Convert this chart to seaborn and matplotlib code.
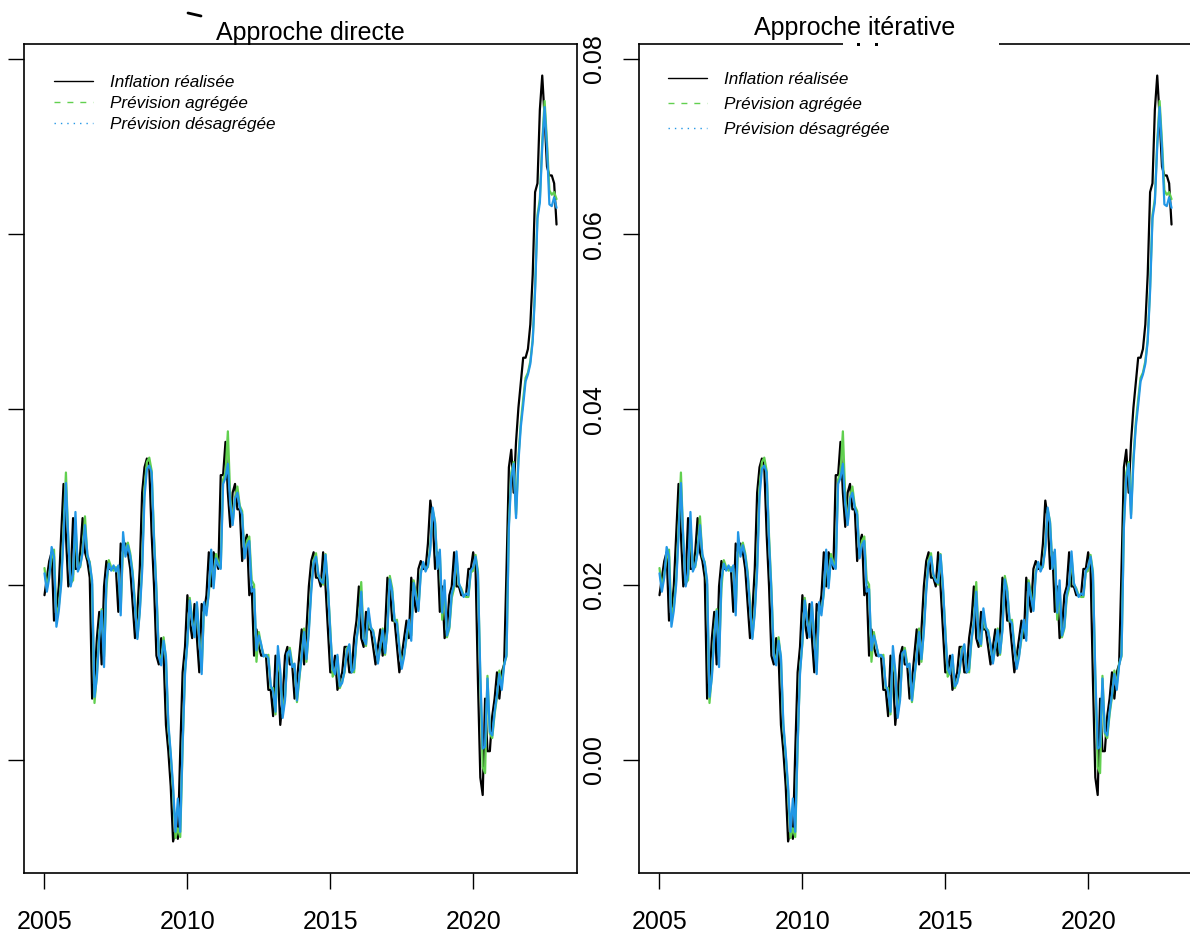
import numpy as np
import pandas as pd
import seaborn as sns
import matplotlib.pyplot as plt
from matplotlib.lines import Line2D
from matplotlib.patches import Rectangle

# monthly log y/y inflation, Jan 2005 -> Dec 2022 (one row per year)
inflation_realisee = [
    0.0188, 0.0208, 0.0227, 0.0237, 0.0159, 0.0169, 0.0198, 0.0257, 0.0315, 0.0257, 0.0198, 0.0208,
    0.0276, 0.0218, 0.0218, 0.0237, 0.0276, 0.0237, 0.0227, 0.0208, 0.0070, 0.0090, 0.0139, 0.0169,
    0.0109, 0.0198, 0.0227, 0.0218, 0.0218, 0.0218, 0.0218, 0.0169, 0.0247, 0.0237, 0.0247, 0.0237,
    0.0218, 0.0178, 0.0139, 0.0169, 0.0218, 0.0305, 0.0334, 0.0344, 0.0334, 0.0257, 0.0198, 0.0119,
    0.0109, 0.0139, 0.0119, 0.0040, 0.0010, -0.0030, -0.0093, -0.0080, -0.0090, 0.0010, 0.0100, 0.0129,
    0.0188, 0.0159, 0.0139, 0.0178, 0.0139, 0.0100, 0.0178, 0.0169, 0.0188, 0.0237, 0.0198, 0.0237,
    0.0227, 0.0218, 0.0325, 0.0325, 0.0363, 0.0305, 0.0266, 0.0305, 0.0315, 0.0286, 0.0286, 0.0227,
    0.0247, 0.0257, 0.0188, 0.0198, 0.0119, 0.0149, 0.0129, 0.0119, 0.0119, 0.0119, 0.0080, 0.0080,
    0.0050, 0.0119, 0.0100, 0.0040, 0.0070, 0.0119, 0.0129, 0.0109, 0.0109, 0.0070, 0.0090, 0.0119,
    0.0149, 0.0109, 0.0149, 0.0198, 0.0227, 0.0237, 0.0208, 0.0208, 0.0198, 0.0237, 0.0198, 0.0149,
    0.0100, 0.0100, 0.0119, 0.0080, 0.0090, 0.0100, 0.0129, 0.0129, 0.0100, 0.0100, 0.0139, 0.0159,
    0.0198, 0.0139, 0.0129, 0.0169, 0.0149, 0.0149, 0.0129, 0.0109, 0.0129, 0.0149, 0.0119, 0.0149,
    0.0208, 0.0198, 0.0159, 0.0159, 0.0129, 0.0100, 0.0119, 0.0139, 0.0159, 0.0139, 0.0208, 0.0188,
    0.0169, 0.0218, 0.0227, 0.0218, 0.0218, 0.0247, 0.0296, 0.0276, 0.0218, 0.0237, 0.0169, 0.0198,
    0.0139, 0.0149, 0.0188, 0.0198, 0.0237, 0.0198, 0.0198, 0.0188, 0.0188, 0.0188, 0.0218, 0.0218,
    0.0237, 0.0218, 0.0090, -0.0020, -0.0040, 0.0070, 0.0010, 0.0010, 0.0050, 0.0070, 0.0100, 0.0070,
    0.0100, 0.0109, 0.0218, 0.0334, 0.0354, 0.0305, 0.0363, 0.0402, 0.0431, 0.0459, 0.0459, 0.0469,
    0.0497, 0.0554, 0.0648, 0.0658, 0.0742, 0.0781, 0.0733, 0.0677, 0.0667, 0.0667, 0.0658, 0.0611,
]

prevision_agregee = [
    0.0219, 0.0196, 0.0212, 0.0230, 0.0240, 0.0163, 0.0175, 0.0205, 0.0262, 0.0328, 0.0250, 0.0202,
    0.0205, 0.0268, 0.0222, 0.0220, 0.0240, 0.0278, 0.0232, 0.0226, 0.0200, 0.0065, 0.0098, 0.0145,
    0.0172, 0.0118, 0.0195, 0.0228, 0.0220, 0.0216, 0.0220, 0.0218, 0.0172, 0.0245, 0.0240, 0.0248,
    0.0236, 0.0215, 0.0180, 0.0140, 0.0170, 0.0222, 0.0310, 0.0340, 0.0345, 0.0330, 0.0255, 0.0195,
    0.0122, 0.0110, 0.0140, 0.0115, 0.0038, 0.0005, -0.0035, -0.0089, -0.0078, -0.0088, 0.0015, 0.0102,
    0.0133, 0.0185, 0.0160, 0.0142, 0.0176, 0.0140, 0.0103, 0.0175, 0.0170, 0.0190, 0.0232, 0.0200,
    0.0235, 0.0226, 0.0220, 0.0320, 0.0328, 0.0375, 0.0300, 0.0270, 0.0300, 0.0312, 0.0290, 0.0284,
    0.0232, 0.0250, 0.0255, 0.0205, 0.0200, 0.0112, 0.0146, 0.0130, 0.0120, 0.0118, 0.0120, 0.0082,
    0.0082, 0.0052, 0.0120, 0.0098, 0.0053, 0.0072, 0.0118, 0.0128, 0.0110, 0.0108, 0.0066, 0.0092,
    0.0120, 0.0150, 0.0112, 0.0150, 0.0196, 0.0228, 0.0236, 0.0210, 0.0206, 0.0200, 0.0235, 0.0196,
    0.0150, 0.0095, 0.0100, 0.0118, 0.0082, 0.0090, 0.0100, 0.0128, 0.0130, 0.0102, 0.0100, 0.0136,
    0.0158, 0.0203, 0.0140, 0.0130, 0.0166, 0.0150, 0.0148, 0.0130, 0.0112, 0.0128, 0.0150, 0.0120,
    0.0150, 0.0210, 0.0196, 0.0158, 0.0160, 0.0130, 0.0108, 0.0120, 0.0138, 0.0156, 0.0142, 0.0205,
    0.0190, 0.0172, 0.0215, 0.0225, 0.0218, 0.0220, 0.0245, 0.0285, 0.0272, 0.0220, 0.0236, 0.0160,
    0.0195, 0.0140, 0.0150, 0.0185, 0.0196, 0.0232, 0.0200, 0.0196, 0.0188, 0.0186, 0.0186, 0.0214,
    0.0216, 0.0234, 0.0215, 0.0092, -0.0008, -0.0015, 0.0096, 0.0030, 0.0025, 0.0052, 0.0072, 0.0102,
    0.0085, 0.0110, 0.0118, 0.0270, 0.0328, 0.0340, 0.0280, 0.0345, 0.0385, 0.0412, 0.0436, 0.0442,
    0.0455, 0.0480, 0.0540, 0.0622, 0.0640, 0.0705, 0.0752, 0.0705, 0.0650, 0.0645, 0.0648, 0.0640,
]

prevision_desagregee = [
    0.0213, 0.0192, 0.0208, 0.0243, 0.0232, 0.0152, 0.0170, 0.0200, 0.0255, 0.0316, 0.0252, 0.0198,
    0.0212, 0.0283, 0.0215, 0.0222, 0.0236, 0.0268, 0.0235, 0.0224, 0.0205, 0.0072, 0.0094, 0.0140,
    0.0170, 0.0106, 0.0205, 0.0224, 0.0216, 0.0222, 0.0215, 0.0222, 0.0165, 0.0260, 0.0232, 0.0245,
    0.0233, 0.0212, 0.0175, 0.0138, 0.0168, 0.0215, 0.0300, 0.0332, 0.0336, 0.0328, 0.0250, 0.0192,
    0.0118, 0.0108, 0.0136, 0.0118, 0.0042, 0.0008, -0.0030, -0.0082, -0.0044, -0.0082, 0.0018, 0.0098,
    0.0135, 0.0182, 0.0158, 0.0140, 0.0180, 0.0138, 0.0098, 0.0180, 0.0165, 0.0192, 0.0240, 0.0196,
    0.0230, 0.0222, 0.0218, 0.0315, 0.0322, 0.0338, 0.0292, 0.0268, 0.0298, 0.0305, 0.0288, 0.0280,
    0.0230, 0.0245, 0.0250, 0.0192, 0.0195, 0.0125, 0.0142, 0.0132, 0.0118, 0.0120, 0.0116, 0.0085,
    0.0078, 0.0055, 0.0130, 0.0102, 0.0048, 0.0068, 0.0122, 0.0125, 0.0106, 0.0110, 0.0068, 0.0095,
    0.0118, 0.0146, 0.0115, 0.0146, 0.0192, 0.0225, 0.0232, 0.0212, 0.0204, 0.0202, 0.0234, 0.0200,
    0.0146, 0.0104, 0.0098, 0.0120, 0.0084, 0.0088, 0.0102, 0.0124, 0.0132, 0.0100, 0.0104, 0.0138,
    0.0156, 0.0192, 0.0138, 0.0132, 0.0173, 0.0152, 0.0146, 0.0132, 0.0110, 0.0130, 0.0148, 0.0122,
    0.0148, 0.0206, 0.0192, 0.0160, 0.0156, 0.0128, 0.0104, 0.0118, 0.0142, 0.0160, 0.0136, 0.0202,
    0.0186, 0.0170, 0.0212, 0.0226, 0.0215, 0.0222, 0.0240, 0.0288, 0.0270, 0.0218, 0.0240, 0.0168,
    0.0205, 0.0142, 0.0152, 0.0190, 0.0200, 0.0238, 0.0202, 0.0194, 0.0186, 0.0190, 0.0188, 0.0216,
    0.0220, 0.0232, 0.0212, 0.0098, 0.0013, 0.0015, 0.0093, 0.0032, 0.0028, 0.0055, 0.0075, 0.0098,
    0.0080, 0.0108, 0.0120, 0.0265, 0.0322, 0.0338, 0.0276, 0.0340, 0.0380, 0.0405, 0.0432, 0.0440,
    0.0452, 0.0478, 0.0535, 0.0618, 0.0636, 0.0700, 0.0745, 0.0698, 0.0634, 0.0632, 0.0642, 0.0630,
]

titres = ["Approche directe", "Approche itérative"]
legend_labels = ["Inflation réalisée", "Prévision agrégée", "Prévision désagrégée"]
x_ticks = [2005, 2010, 2015, 2020]
y_ticks = [0.00, 0.02, 0.04, 0.06, 0.08]

GREEN = "#61D04F"
BLUE = "#2297E6"

sns.set_style("ticks")
plt.rcParams["font.family"] = ["Liberation Sans", "DejaVu Sans"]
plt.rcParams["text.color"] = "black"

df = pd.DataFrame({
    "date": 2005 + np.arange(len(inflation_realisee)) / 12,
    "real": inflation_realisee,
    "agg": prevision_agregee,
    "desagg": prevision_desagregee,
})

W, H = 1190, 936
fig = plt.figure(figsize=(W / 100, H / 100), dpi=100)

# axes boxes in pixels: (left, top, right, bottom)
boxes = [(24, 44, 577, 873), (639, 44, 1192, 873)]
title_pos = [(310, 33), (855, 28)]
legend_anchor = [(54, 75, 0.36), (668, 72, 0.58)]

for i, (l, t, r, b) in enumerate(boxes):
    ax = fig.add_axes([l / W, 1 - b / H, (r - l) / W, (b - t) / H])
    sns.lineplot(data=df, x="date", y="real", ax=ax, color="black", lw=1.6)
    sns.lineplot(data=df, x="date", y="agg", ax=ax, color=GREEN, lw=1.6)
    sns.lineplot(data=df, x="date", y="desagg", ax=ax, color=BLUE, lw=1.6)

    ax.set_xlim(2004.283, 2023.633)
    ax.set_ylim(-0.0129, 0.0817)
    ax.set_xticks(x_ticks)
    ax.set_xticklabels([str(v) for v in x_ticks])
    ax.set_yticks(y_ticks)
    ax.set_yticklabels(["%.2f" % v for v in y_ticks], rotation=90, va="center")
    ax.set_xlabel("")
    ax.set_ylabel("")
    ax.tick_params(axis="both", length=11.5, width=1.0, color="black",
                   labelsize=18, labelcolor="black")
    ax.tick_params(axis="x", pad=15)
    ax.tick_params(axis="y", pad=12)
    if i == 0:
        # the left panel's value labels fall outside the exported image
        ax.tick_params(axis="y", labelleft=False)
    for sp in ax.spines.values():
        sp.set_visible(True)
        sp.set_color("black")
        sp.set_linewidth(1.2)

    handles = [
        Line2D([], [], color="black", lw=1.0),
        Line2D([], [], color=GREEN, lw=1.0, linestyle=(0, (4.3, 5.0))),
        Line2D([], [], color=BLUE, lw=1.0, linestyle=(0, (1.0, 3.6))),
    ]
    hx, hy, spacing = legend_anchor[i]
    leg = ax.legend(handles, legend_labels, loc="upper left",
                    bbox_to_anchor=((hx - l) / (r - l), (b - hy) / (b - t)),
                    frameon=False, borderaxespad=0, borderpad=0,
                    handlelength=2.3, handletextpad=1.0, labelspacing=spacing,
                    prop={"style": "italic", "size": 12.3})
    for txt in leg.get_texts():
        txt.set_color("black")

    tx, ty = title_pos[i]
    fig.text(tx / W, 1 - ty / H, titres[i], ha="center", va="center",
             fontsize=18, color="black")

# small leftovers of the original export
fig.add_artist(Rectangle((843 / W, 1 - 47 / H), 156 / W, 6 / H,
                         transform=fig.transFigure, facecolor="white",
                         edgecolor="none", zorder=10))
for px in (857, 875):
    fig.add_artist(Rectangle((px / W, 1 - 46 / H), 3 / W, 3 / H,
                             transform=fig.transFigure, facecolor="black",
                             edgecolor="none", zorder=11))
fig.add_artist(Line2D([188 / W, 201 / W], [1 - 13 / H, 1 - 16 / H],
                      transform=fig.transFigure, color="black", lw=2))

fig.savefig("out.png", dpi=100)
